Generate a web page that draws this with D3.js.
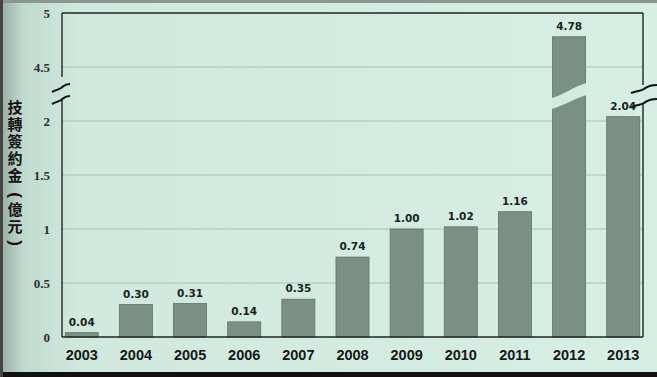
<!DOCTYPE html>
<html>
<head>
<meta charset="utf-8">
<script src="https://cdn.jsdelivr.net/npm/d3@7"></script>
<style>
  body { margin: 0; padding: 0; background: #d6ece2; }
  svg { display: block; }
</style>
</head>
<body>
<svg id="viz"></svg>
<script>
var width = 657;
var height = 377;

// data
var years = ["2003", "2004", "2005", "2006", "2007", "2008", "2009", "2010", "2011", "2012", "2013"];
var amounts = [0.04, 0.30, 0.31, 0.14, 0.35, 0.74, 1.00, 1.02, 1.16, 4.78, 2.04];
var lowTicks = [0, 0.5, 1, 1.5, 2];
var highTicks = [4.5, 5];
var yTitleMain = "技轉簽約金";
var yTitleUnit = "億元";

var plotLeft = 62, plotRight = 643, plotTop = 13, plotBottom = 337;
var breakLow = 2.25, breakHigh = 4.25;

var x = d3.scaleBand().domain(years).range([plotLeft, plotRight]).paddingInner(0.39).paddingOuter(0.06);
var yLow = d3.scaleLinear().domain([0, breakLow]).range([plotBottom, 94]);
var yHigh = d3.scaleLinear().domain([breakHigh, 5]).range([94, plotTop]);
function y(v) { return v <= breakLow ? yLow(v) : yHigh(v); }

var paper = "#d3eadf";
var svg = d3.select("#viz").attr("width", width).attr("height", height);

// photographed page background
var defs = svg.append("defs");
var grad = defs.append("linearGradient").attr("id", "bg").attr("x1", 0).attr("x2", 1).attr("y1", 0).attr("y2", 0);
grad.append("stop").attr("offset", "0").attr("stop-color", "#95aba1");
grad.append("stop").attr("offset", "0.035").attr("stop-color", "#c1dacf");
grad.append("stop").attr("offset", "0.12").attr("stop-color", "#d0e8dd");
grad.append("stop").attr("offset", "1").attr("stop-color", "#d7eee4");
svg.append("rect").attr("width", width).attr("height", height).attr("fill", "url(#bg)");
svg.append("rect").attr("width", width).attr("height", 3).attr("fill", "#8c9691");
svg.append("rect").attr("y", 372).attr("width", width).attr("height", 5).attr("fill", "#111");
svg.append("rect").attr("width", 3).attr("height", height).attr("fill", "#444");

// gridlines
svg.append("g").selectAll("line")
  .data(lowTicks.slice(1).concat([highTicks[0]]))
  .enter().append("line")
  .attr("x1", plotLeft).attr("x2", plotRight)
  .attr("y1", function(d) { return y(d); }).attr("y2", function(d) { return y(d); })
  .attr("stroke", "#a9bfb4").attr("stroke-width", 1.2);

// bars
svg.append("g").selectAll("rect")
  .data(amounts)
  .enter()
  .append("rect")
  .attr("x", function(d, i) { return x(years[i]); })
  .attr("width", x.bandwidth())
  .attr("y", function(d) { return y(d); })
  .attr("height", function(d) { return plotBottom - y(d); })
  .attr("fill", "#7b9085")
  .attr("stroke", "#5f7268")
  .attr("stroke-width", 0.8);

// slanted cut through the broken bar
amounts.forEach(function(d, i) {
  if (d > breakHigh) {
    var x0 = x(years[i]) - 1, x1 = x0 + x.bandwidth() + 2;
    svg.append("path")
      .attr("d", "M" + x0 + ",98 C" + (x0 + 12) + ",95 " + (x1 - 14) + ",87 " + x1 + ",83 L" + x1 + ",95 C" + (x1 - 14) + ",99 " + (x0 + 12) + ",106 " + x0 + ",109 Z")
      .attr("fill", paper);
  }
});

// frame
var frame = svg.append("g").attr("stroke", "#1e2622").attr("stroke-width", 1.4).attr("fill", "none");
frame.append("line").attr("x1", plotLeft).attr("x2", plotRight).attr("y1", plotTop).attr("y2", plotTop);
frame.append("line").attr("x1", plotLeft).attr("x2", plotRight).attr("y1", plotBottom).attr("y2", plotBottom);
frame.append("line").attr("x1", plotLeft).attr("x2", plotLeft).attr("y1", plotTop).attr("y2", 77);
frame.append("line").attr("x1", plotLeft).attr("x2", plotLeft).attr("y1", 99).attr("y2", plotBottom);
frame.append("line").attr("x1", plotRight).attr("x2", plotRight).attr("y1", plotTop).attr("y2", 85);
frame.append("line").attr("x1", plotRight).attr("x2", plotRight).attr("y1", 104).attr("y2", plotBottom);

// break marks
function breakMark(cx, cy, w) {
  return "M" + (cx - w) + "," + (cy + 4) + " C" + (cx - w / 3) + "," + (cy + 1) + " " + (cx - 3) + "," + (cy + 2) + " " + cx + "," + cy +
    " C" + (cx + 3) + "," + (cy - 2) + " " + (cx + w / 3) + "," + (cy - 4) + " " + (cx + w) + "," + (cy - 4);
}
var marks = svg.append("g").attr("stroke", "#111").attr("stroke-width", 2).attr("fill", "none");
marks.append("path").attr("d", breakMark(61, 88, 9));
marks.append("path").attr("d", breakMark(61, 100, 9));
marks.append("path").attr("d", breakMark(644, 89, 13));
marks.append("path").attr("d", breakMark(644, 103, 13));

// y tick labels
var yAxisLow = d3.axisLeft(yLow).tickValues(lowTicks).tickSize(0).tickPadding(12)
  .tickFormat(function(d) { return String(d); });
var yAxisHigh = d3.axisLeft(yHigh).tickValues(highTicks).tickSize(0).tickPadding(12)
  .tickFormat(function(d) { return String(d); });
[yAxisLow, yAxisHigh].forEach(function(ax) {
  var g = svg.append("g").attr("transform", "translate(" + plotLeft + ",0)").call(ax);
  g.select(".domain").remove();
  g.selectAll("text")
    .style("font-family", "'Liberation Serif', serif")
    .style("font-size", "13px")
    .style("font-weight", 700)
    .attr("fill", "#2a302d");
});

// x axis labels
var xAxis = d3.axisBottom(x).tickSize(0).tickPadding(13);
var gx = svg.append("g").attr("transform", "translate(0," + plotBottom + ")").call(xAxis);
gx.select(".domain").remove();
gx.selectAll("text")
  .style("font-family", "'Liberation Sans', Arial, sans-serif")
  .style("font-size", "14.5px")
  .style("font-weight", 700)
  .attr("fill", "#141816");

// value labels
svg.append("g").selectAll("text")
  .data(amounts)
  .enter()
  .append("text")
  .attr("x", function(d, i) { return x(years[i]) + x.bandwidth() / 2; })
  .attr("y", function(d) { return y(d) - 7; })
  .attr("text-anchor", "middle")
  .style("font-family", "'DejaVu Sans', sans-serif")
  .style("font-size", "10.5px")
  .style("font-weight", 700)
  .attr("fill", "#1a1f1c")
  .text(function(d) { return d.toFixed(2); });

// vertical y title, parentheses turned sideways like the print
var title = svg.append("g")
  .attr("fill", "#111")
  .style("font-weight", 700);
function vText(str, top) {
  title.append("text")
    .attr("x", 15)
    .attr("y", top)
    .style("writing-mode", "vertical-rl")
    .style("font-family", "'Noto Sans CJK TC', sans-serif")
    .style("font-size", "15px")
    .style("letter-spacing", "2px")
    .text(str);
}
function paren(ch, cy) {
  title.append("text")
    .attr("transform", "translate(15," + cy + ") rotate(90)")
    .attr("text-anchor", "middle")
    .attr("dominant-baseline", "central")
    .style("font-family", "'Liberation Sans', sans-serif")
    .style("font-size", "17px")
    .text(ch);
}
vText(yTitleMain, 100);
paren("(", 195);
vText(yTitleUnit, 202);
paren(")", 243);
</script>
</body>
</html>
